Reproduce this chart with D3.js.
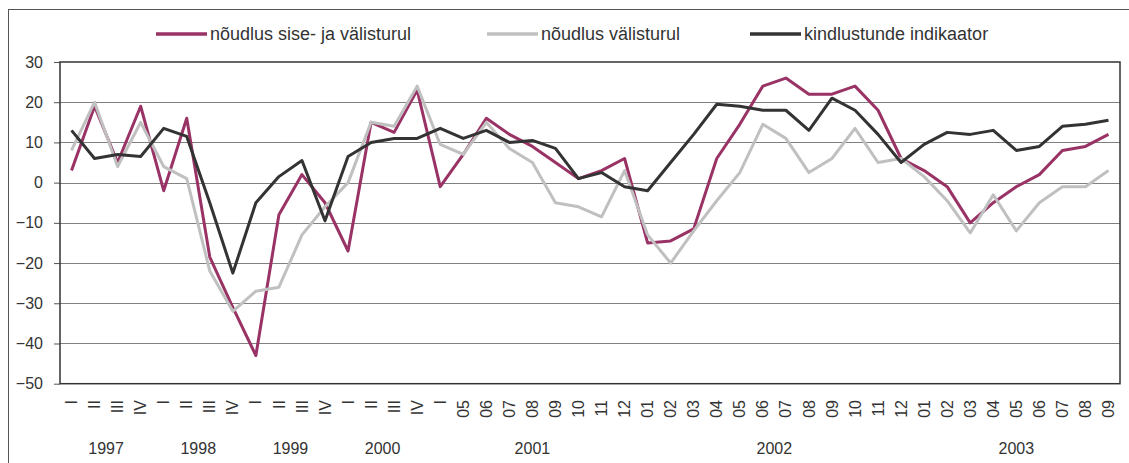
<!DOCTYPE html>
<meta charset="utf-8">
<style>
  body { margin: 0; background: #fff; }
  svg { display: block; font-family: "Liberation Sans", Arial, sans-serif; }
  .grid line { stroke: #808080; stroke-width: 1; }
  .axis text { fill: #333; }
  .series { fill: none; stroke-width: 3; stroke-linejoin: round; }
  .legend text { fill: #333; font-size: 18px; }
</style>
<svg width="1129" height="463"></svg>
<script src="https://d3js.org/d3.v7.min.js"></script>
<script>
// Data
var tickLabels = ["I", "II", "III", "IV", "I", "II", "III", "IV", "I", "II", "III", "IV",
  "I", "II", "III", "IV", "I", "05", "06", "07", "08", "09", "10", "11", "12",
  "01", "02", "03", "04", "05", "06", "07", "08", "09", "10", "11", "12",
  "01", "02", "03", "04", "05", "06", "07", "08", "09"];
var years = ["1997", "1998", "1999", "2000", "2001", "2002", "2003"];
var yearCounts = [4, 4, 4, 4, 9, 12, 9];

var demandAll = [3, 19, 5, 19, -2, 16, -18.5, -31, -43, -8, 2, -5, -17, 15, 12.5, 23,
  -1, 7, 16, 12, 9, 5, 1, 3, 6, -15, -14.5, -11.5, 6, 14.5, 24, 26, 22, 22, 24, 18, 6,
  3, -1, -10, -5, -1, 2, 8, 9, 12];
var demandForeign = [8, 20, 4, 15, 4, 1, -22, -32, -27, -26, -13, -6, 0, 15, 14, 24,
  9.5, 7, 15, 8.5, 5, -5, -6, -8.5, 3, -13, -20, -12, -4.5, 2.5, 14.5, 11, 2.5, 6, 13.5, 5, 6,
  1.5, -4.5, -12.5, -3, -12, -5, -1, -1, 3];
var confidence = [13, 6, 7, 6.5, 13.5, 11.5, -5, -22.5, -5, 1.5, 5.5, -9.5, 6.5, 10, 11, 11,
  13.5, 11, 13, 10, 10.5, 8.5, 1, 2.5, -1, -2, 5, 12, 19.5, 19, 18, 18, 13, 21, 18, 12, 5,
  9.5, 12.5, 12, 13, 8, 9, 14, 14.5, 15.5];

var seriesNames = ["nõudlus sise- ja välisturul", "nõudlus välisturul", "kindlustunde indikaator"];
var seriesColors = ["#993366", "#c0c0c0", "#333333"];
var yTicks = [30, 20, 10, 0, -10, -20, -30, -40, -50];

var svg = d3.select("svg");

// outer frame
svg.append("rect")
    .attr("x", 8.5).attr("y", 9.5)
    .attr("width", 1140).attr("height", 470)
    .attr("fill", "none")
    .attr("stroke", "#555");

var plotLeft = 60, plotRight = 1120, plotTop = 62, plotBottom = 383.7;

var x = d3.scaleBand()
    .domain(d3.range(tickLabels.length))
    .range([plotLeft, plotRight]);

var y = d3.scaleLinear()
    .domain([-50, 30])
    .range([plotBottom, plotTop]);

// gridlines
svg.append("g")
    .attr("class", "grid")
    .selectAll("line")
    .data(yTicks.filter(function (d) { return d > -50 && d < 30; }))
    .enter().append("line")
    .attr("x1", plotLeft).attr("x2", plotRight)
    .attr("y1", function (d) { return Math.round(y(d)) + 0.5; })
    .attr("y2", function (d) { return Math.round(y(d)) + 0.5; });

// y axis
var yAxis = svg.append("g")
    .attr("class", "axis")
    .attr("transform", "translate(" + plotLeft + ",0)")
    .call(d3.axisLeft(y).tickValues(yTicks).tickSize(6).tickPadding(11));
yAxis.select(".domain").remove();
yAxis.selectAll(".tick line").attr("stroke", "#555");
yAxis.selectAll("text").attr("font-size", 16);
yAxis.attr("font-family", null);

// plot frame
svg.append("rect")
    .attr("x", plotLeft).attr("y", plotTop)
    .attr("width", plotRight - plotLeft).attr("height", plotBottom - plotTop)
    .attr("fill", "none")
    .attr("stroke", "#333")
    .attr("stroke-width", 1.5);

// category labels
var xAxis = svg.append("g").attr("class", "axis");
xAxis.selectAll("text.cat")
    .data(tickLabels)
    .enter().append("text")
    .attr("class", "cat")
    .attr("transform", function (d, i) {
      return "translate(" + (x(i) + x.bandwidth() / 2) + ",400) rotate(-90)";
    })
    .attr("text-anchor", "end")
    .attr("dy", "0.35em")
    .attr("font-size", 16)
    .text(function (d) { return d; });

// year labels
var starts = [0];
yearCounts.forEach(function (c, i) { starts.push(starts[i] + c); });
xAxis.selectAll("text.year")
    .data(years)
    .enter().append("text")
    .attr("class", "year")
    .attr("x", function (d, i) {
      return (x(starts[i]) + x(starts[i + 1] - 1) + x.bandwidth()) / 2;
    })
    .attr("y", 454)
    .attr("text-anchor", "middle")
    .attr("font-size", 16)
    .text(function (d) { return d; });

// lines
var line = d3.line()
    .x(function (d, i) { return x(i) + x.bandwidth() / 2; })
    .y(function (d) { return y(d); });

svg.selectAll("path.series")
    .data([demandAll, demandForeign, confidence])
    .enter().append("path")
    .attr("class", "series")
    .attr("stroke", function (d, i) { return seriesColors[i]; })
    .attr("d", line);

// legend
var legendX = [156, 487, 750];
var legend = svg.append("g").attr("class", "legend")
    .selectAll("g")
    .data(seriesNames)
    .enter().append("g")
    .attr("transform", function (d, i) { return "translate(" + legendX[i] + ",34)"; });
legend.append("line")
    .attr("x1", 0).attr("x2", 51)
    .attr("stroke-width", 3.5)
    .attr("stroke", function (d, i) { return seriesColors[i]; });
legend.append("text")
    .attr("x", 54)
    .attr("dy", "0.35em")
    .text(function (d) { return d; });
</script>
